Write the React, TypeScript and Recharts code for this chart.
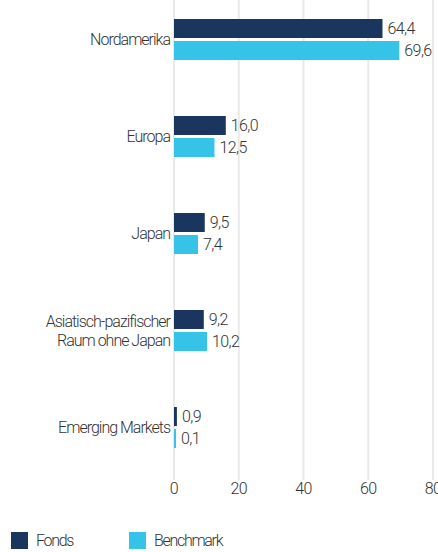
import React from "react";
import { BarChart, Bar, XAxis, YAxis, CartesianGrid, Legend, LabelList } from "recharts";

const categories = ["Nordamerika", "Europa", "Japan", "Asiatisch-pazifischer\nRaum ohne Japan", "Emerging Markets"];
const fondsValues = [64.4, 16.0, 9.5, 9.2, 0.9];
const benchmarkValues = [69.6, 12.5, 7.4, 10.2, 0.1];
const xTicks = [0, 20, 40, 60, 80];
const seriesNames = ["Fonds", "Benchmark"];
const seriesColors = ["#1b365e", "#35c4e8"];

const data = categories.map((c, i) => ({ name: c, fonds: fondsValues[i], benchmark: benchmarkValues[i] }));

const FONT = "Roboto, 'Liberation Sans Narrow', sans-serif";
const WEIGHT = 300;
const TEXT = "#333333";

const fmt = (v: any) => Number(v).toFixed(1).replace(".", ",");

const YTick = (props: any) => {
  const { x, y, payload } = props;
  const lines = String(payload.value).split("\n");
  const lh = 19;
  const start = -((lines.length - 1) * lh) / 2;
  return (
    <text x={x} y={y} textAnchor="end" fill={TEXT} fontSize={16} fontFamily={FONT} fontWeight={WEIGHT} letterSpacing={-1}>
      {lines.map((l, i) => (
        <tspan key={i} x={x} y={y + start + i * lh} dy="0.35em">{l}</tspan>
      ))}
    </text>
  );
};

const LegendContent = () => (
  <div style={{ display: "flex", paddingTop: 26, paddingLeft: 11, fontFamily: FONT, fontWeight: WEIGHT, fontSize: 16, color: TEXT, letterSpacing: -1.3 }}>
    {seriesNames.map((n, i) => (
      <div key={n} style={{ display: "flex", alignItems: "center", width: 118 }}>
        <div style={{ width: 17, height: 17, background: seriesColors[i], marginRight: 8 }} />
        <span style={{ lineHeight: "17px" }}>{n}</span>
      </div>
    ))}
  </div>
);

export default function App() {
  return (
    <div style={{ position: "absolute", top: -9, left: 0, width: 438, height: 561, overflow: "hidden" }}>
      <BarChart
        width={438}
        height={561}
        data={data}
        layout="vertical"
        margin={{ top: 0, right: 5, left: 0, bottom: 0 }}
        barSize={19}
        barGap={3}
      >
        <CartesianGrid horizontal={false} vertical={true} stroke="#e9e9e9" strokeWidth={2} />
        <XAxis
          type="number"
          domain={[0, 80]}
          ticks={xTicks}
          axisLine={false}
          tickLine={{ stroke: "#e9e9e9", strokeWidth: 2 }}
          tickSize={4}
          tickMargin={3}
          height={30}
          tick={{ fill: TEXT, fontSize: 16, fontFamily: FONT, fontWeight: WEIGHT, letterSpacing: -0.5 }}
          interval={0}
        />
        <YAxis
          type="category"
          dataKey="name"
          width={174}
          axisLine={false}
          tickLine={false}
          tickSize={0}
          tickMargin={4}
          tick={<YTick />}
          interval={0}
        />
        <Legend verticalAlign="bottom" height={46} content={<LegendContent />} />
        <Bar dataKey="fonds" name={seriesNames[0]} fill={seriesColors[0]} isAnimationActive={false}>
          <LabelList dataKey="fonds" position="right" offset={5} formatter={fmt} fill={TEXT} fontSize={16} fontFamily={FONT} fontWeight={WEIGHT} letterSpacing={-0.6} />
        </Bar>
        <Bar dataKey="benchmark" name={seriesNames[1]} fill={seriesColors[1]} minPointSize={2} isAnimationActive={false}>
          <LabelList dataKey="benchmark" position="right" offset={5} formatter={fmt} fill={TEXT} fontSize={16} fontFamily={FONT} fontWeight={WEIGHT} letterSpacing={-0.6} />
        </Bar>
      </BarChart>
    </div>
  );
}
